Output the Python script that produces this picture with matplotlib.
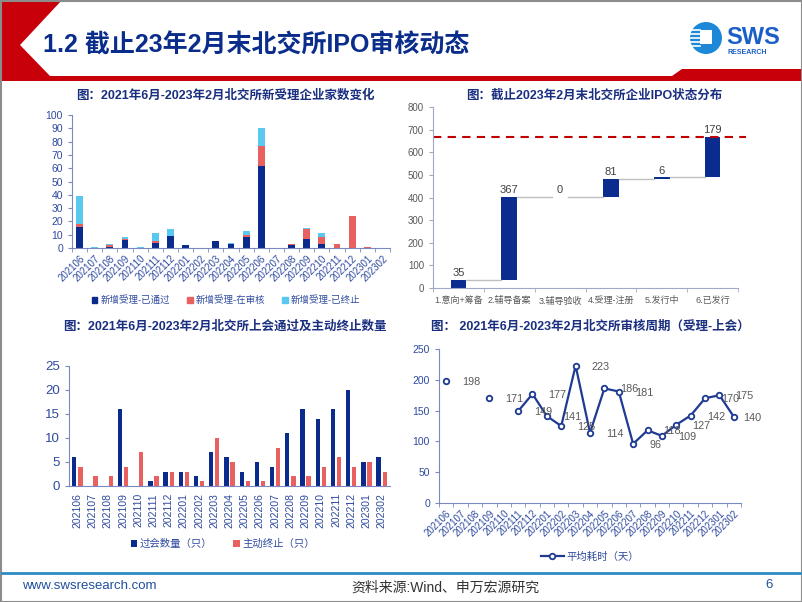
import numpy as np
import matplotlib
matplotlib.use("Agg")
import matplotlib.pyplot as plt
from matplotlib.patches import Polygon, Rectangle, Circle, Patch

plt.rcParams['font.family'] = ['Liberation Sans', 'Noto Sans CJK SC', 'DejaVu Sans']

# ---- data ----
months = ['202106', '202107', '202108', '202109', '202110', '202111', '202112',
          '202201', '202202', '202203', '202204', '202205', '202206', '202207',
          '202208', '202209', '202210', '202211', '202212', '202301', '202302']

new_passed = [16, 0, 1, 6, 0, 4, 9, 2, 0, 5, 3, 8, 62, 0, 2, 7, 3, 0, 0, 0, 0]
new_review = [2, 0, 1, 1, 0, 1, 0, 0, 0, 0, 0, 2, 15, 0, 1, 7, 5, 3, 24, 1, 0]
new_stopped = [21, 1, 1, 1, 1, 6, 5, 0, 0, 0, 1, 3, 13, 0, 0, 1, 3, 0, 0, 0, 0]

stages = ['1.意向+筹备', '2.辅导备案', '3.辅导验收', '4.受理-注册', '5.发行中', '6.已发行']
stage_counts = [35, 367, 0, 81, 6, 179]

meet_passed = [6, 0, 0, 16, 0, 1, 3, 3, 2, 7, 6, 3, 5, 4, 11, 16, 14, 16, 20, 5, 6]
meet_stopped = [4, 2, 2, 4, 7, 2, 3, 3, 1, 10, 5, 1, 1, 8, 2, 2, 4, 6, 4, 5, 3]

avg_days = [198, np.nan, np.nan, 171, np.nan, 149, 177, 141, 125, 223, 114, 186,
            181, 96, 118, 109, 127, 142, 170, 175, 140]

NAVY = '#0B2B8C'
RED = '#E8605F'
CYAN = '#5BC8F0'
TICK = '#2E4A9E'
TITLE = '#1B2F80'
GRAY = '#595959'

W, H = 802, 602
fig = plt.figure(figsize=(W / 100, H / 100), dpi=100)


def rect(x0, y0, x1, y1):
    return [x0 / W, 1 - y1 / H, (x1 - x0) / W, (y1 - y0) / H]


# ---- page decoration ----
bg = fig.add_axes([0, 0, 1, 1], zorder=-10)
bg.set_xlim(0, W)
bg.set_ylim(H, 0)
bg.axis('off')
bg.add_patch(Polygon([(0, 0), (62, 0), (20, 45), (50, 76), (672, 76), (682, 69),
                      (W, 69), (W, 81), (0, 81)], closed=True, color='#C8000A', lw=0))
bg.add_patch(Rectangle((0.5, 0.5), W - 1, H - 1, fill=False, ec='#8C8C8C', lw=1.5))
bg.plot([2, W - 2], [573, 573], color='#2C8DC4', lw=2)
bg.text(43, 46, '1.2 截止23年2月末北交所IPO审核动态', fontsize=18, color='#0A2D8C',
        fontweight='bold', va='center', ha='left')
# logo
bg.add_patch(Circle((706, 38), 16, color='#1E88D8', lw=0))
for yy in [30, 34, 38, 42, 46]:
    bg.plot([690, 700], [yy, yy], color='white', lw=1.2)
bg.add_patch(Rectangle((700, 30), 12, 14, color='white', lw=0))
bg.text(726, 38, 'SWS', fontsize=17, fontweight='bold', color='#1A5FC8', va='center', ha='left')
bg.text(727, 52, 'RESEARCH', fontsize=5, fontweight='bold', color='#1A5FC8', va='center', ha='left')
# footer
bg.text(22, 586, 'www.swsresearch.com', fontsize=9.5, color='#1F4E9C', va='center')
bg.text(445, 588, '资料来源:Wind、申万宏源研究', fontsize=10, color='#333333', va='center', ha='center')
bg.text(765, 585, '6', fontsize=9.5, color='#1F4E9C', va='center')

# chart titles
bg.text(225, 96, '图：2021年6月-2023年2月北交所新受理企业家数变化', fontsize=9,
        fontweight='bold', color=TITLE, ha='center', va='center')
bg.text(594, 96, '图：截止2023年2月末北交所企业IPO状态分布', fontsize=9,
        fontweight='bold', color=TITLE, ha='center', va='center')
bg.text(225, 327, '图：2021年6月-2023年2月北交所上会通过及主动终止数量', fontsize=9,
        fontweight='bold', color=TITLE, ha='center', va='center')
bg.text(590, 327, '图： 2021年6月-2023年2月北交所审核周期（受理-上会）', fontsize=9,
        fontweight='bold', color=TITLE, ha='center', va='center')


def style_axes(ax, color=TICK, spine='#7A8AC0'):
    for s in ['top', 'right']:
        ax.spines[s].set_visible(False)
    ax.spines['left'].set_color(spine)
    ax.spines['bottom'].set_color(spine)
    ax.tick_params(axis='both', colors=spine, labelcolor=color, length=3, width=0.8)


x = np.arange(len(months))

# ---- chart 1: stacked new applications ----
ax1 = fig.add_axes(rect(72, 115, 390, 248))
b1 = np.array(new_passed)
b2 = np.array(new_review)
b3 = np.array(new_stopped)
ax1.bar(x, b1, width=0.45, color=NAVY)
ax1.bar(x, b2, width=0.45, bottom=b1, color=RED)
ax1.bar(x, b3, width=0.45, bottom=b1 + b2, color=CYAN)
ax1.set_xlim(-0.5, len(months) - 0.5)
ax1.set_ylim(0, 100)
ax1.set_yticks(range(0, 101, 10))
ax1.set_xticks(x)
ax1.set_xticklabels(months, rotation=45, ha='right', rotation_mode='anchor', fontsize=7)
ax1.set_xticks(np.arange(-0.5, len(months), 1), minor=True)
style_axes(ax1)
ax1.tick_params(axis='x', which='major', length=0, pad=4)
ax1.tick_params(axis='x', which='minor', length=3, colors='#7A8AC0')
ax1.tick_params(axis='y', labelsize=7.5)
fig.legend(handles=[Patch(color=NAVY, label='新增受理-已通过'),
                    Patch(color=RED, label='新增受理-在审核'),
                    Patch(color=CYAN, label='新增受理-已终止')],
           loc='center', bbox_to_anchor=(226 / W, 1 - 300 / H), ncol=3, frameon=False,
           fontsize=6.8, handlelength=0.6, handleheight=0.6, handletextpad=0.3,
           columnspacing=1.8, labelcolor=TICK)

# ---- chart 2: waterfall ----
ax2 = fig.add_axes(rect(433, 107, 738, 288))
cum = np.cumsum(stage_counts)
bottoms = cum - np.array(stage_counts)
xs = np.arange(len(stages))
bw = 0.31
ax2.bar(xs, stage_counts, bottom=bottoms, width=bw, color='#0A2C8F')
for i in range(len(stages) - 1):
    ax2.plot([xs[i] + bw / 2, xs[i + 1] - bw / 2], [cum[i], cum[i]], color='#BFBFBF', lw=1)
for i, v in enumerate(stage_counts):
    ax2.text(xs[i], cum[i] + 8, str(v), ha='center', va='bottom', fontsize=8, color='#404040')
ax2.set_xlim(-0.5, len(stages) - 0.5)
ax2.set_ylim(0, 800)
ax2.set_yticks(range(0, 801, 100))
ax2.set_xticks(xs)
ax2.set_xticklabels(stages, fontsize=6.5)
ax2.set_xticks(np.arange(-0.5, len(stages), 1), minor=True)
style_axes(ax2, color=GRAY, spine='#A0A8C8')
ax2.tick_params(axis='x', which='major', length=0, pad=6)
ax2.tick_params(axis='x', which='minor', length=3, colors='#A0A8C8')
ax2.tick_params(axis='y', labelsize=7)
ax2.plot([-0.5, len(stages) - 0.35], [cum[-1], cum[-1]], color='#C00000', lw=1.5,
         ls=(0, (4, 3)), clip_on=False)

# ---- chart 3: passed vs stopped ----
ax3 = fig.add_axes(rect(69, 366, 390, 486))
ax3.bar(x - 0.2, meet_passed, width=0.28, color=NAVY, label='过会数量（只）')
ax3.bar(x + 0.2, meet_stopped, width=0.28, color=RED, label='主动终止（只）')
ax3.set_xlim(-0.55, len(months) - 0.45)
ax3.set_ylim(0, 25)
ax3.set_yticks(range(0, 26, 5))
ax3.set_xticks(x)
ax3.set_xticklabels(months, rotation=90, fontsize=7.5)
style_axes(ax3)
ax3.tick_params(axis='x', length=0, pad=5)
ax3.tick_params(axis='y', labelsize=9.5)
ax3.legend(loc='center', bbox_to_anchor=(0.48, (486 - 544) / 120), ncol=2, frameon=False,
           fontsize=7.5, handlelength=0.6, handleheight=0.6, handletextpad=0.3,
           columnspacing=2.0, labelcolor=TICK)

# ---- chart 4: review cycle ----
ax4 = fig.add_axes(rect(439, 349, 741, 503))
ax4.plot(x, avg_days, color='#1F3A93', lw=1.6, marker='o', markersize=4,
         markerfacecolor='white', markeredgecolor='#1F3A93', markeredgewidth=1.3,
         label='平均耗时（天）')
for i, v in enumerate(avg_days):
    if np.isnan(v):
        continue
    dx = 9 if i == len(avg_days) - 1 else 16
    ax4.annotate(f'{v:.0f}', (x[i], v), xytext=(dx, -1), textcoords='offset pixels',
                 ha='left', va='center', fontsize=7.8, color=GRAY)
ax4.set_xlim(-0.5, len(months) - 0.5)
ax4.set_ylim(0, 250)
ax4.set_yticks(range(0, 251, 50))
ax4.set_xticks(x)
ax4.set_xticklabels(months, rotation=45, ha='right', rotation_mode='anchor', fontsize=7)
ax4.set_xticks(np.arange(-0.5, len(months), 1), minor=True)
style_axes(ax4)
ax4.tick_params(axis='x', which='major', length=0, pad=4)
ax4.tick_params(axis='x', which='minor', length=3, colors='#7A8AC0')
ax4.tick_params(axis='y', labelsize=7.5)
ax4.legend(loc='center', bbox_to_anchor=(0.5, (503 - 557) / 154), frameon=False,
           fontsize=7.5, handlelength=2.2, handletextpad=0.3, labelcolor=TICK)

fig.savefig('out.png', dpi=100)
